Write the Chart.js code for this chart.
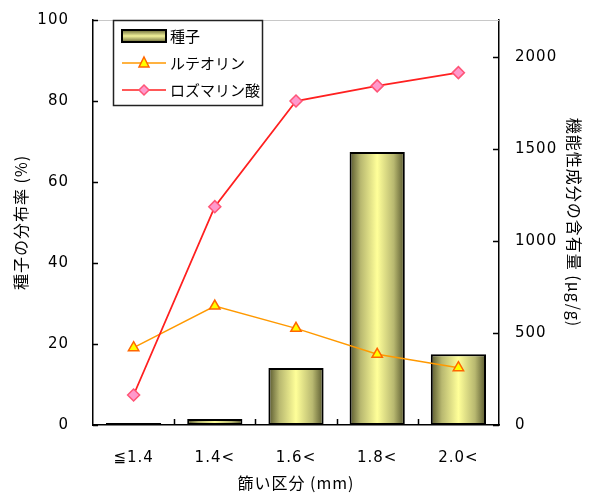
<!DOCTYPE html>
<html>
<head>
<meta charset="utf-8">
<script src="https://cdn.jsdelivr.net/npm/chart.js@4.4.0/dist/chart.umd.min.js"></script>
<style>
  html, body { margin: 0; padding: 0; background: #fff; }
  #wrap { width: 590px; height: 493px; }
</style>
</head>
<body>
<div id="wrap"><canvas id="seedChart" width="590" height="493"></canvas></div>
<script>
'use strict';

// chart data
var categories = ['≦1.4', '1.4<', '1.6<', '1.8<', '2.0<'];
var seedShare = [0.5, 1.5, 14.1, 67.4, 17.5];          // 種子の分布率 (%)
var luteolin = [420, 646, 525, 384, 311];              // μg/g
var rosmarinicAcid = [163, 1186, 1760, 1842, 1914];    // μg/g

var leftTicks = [0, 20, 40, 60, 80, 100];
var rightTicks = [0, 500, 1000, 1500, 2000];

var font = '"DejaVu Sans", "Noto Sans CJK JP", sans-serif';
var jpFont = '"Noto Sans CJK JP", "Noto Sans", sans-serif';

// cylinder-like gradient for each bar
function barFill(context) {
  var chart = context.chart;
  if (!chart.chartArea || !chart.scales.x) return '#dede88';
  var xs = chart.scales.x;
  var cx = xs.getPixelForValue(context.dataIndex);
  var w = xs.width / categories.length * 0.68;
  var g = chart.ctx.createLinearGradient(cx - w / 2, 0, cx + w / 2, 0);
  g.addColorStop(0, '#55552c');
  g.addColorStop(0.2, '#b8b870');
  g.addColorStop(0.5, '#ffff99');
  g.addColorStop(0.8, '#b8b870');
  g.addColorStop(1, '#55552c');
  return g;
}

// no label overflow padding on the value axes, layout handles the top gap
function noPad(s) {
  s.paddingTop = 0;
  s.paddingBottom = 0;
}

// the original uses a wide, loosely spaced font
var spacingPlugin = {
  id: 'spacing',
  beforeDraw: function (chart) { chart.ctx.letterSpacing = '1px'; }
};

// frame + inward tick marks
var framePlugin = {
  id: 'frame',
  beforeDatasetsDraw: function (chart) {
    var a = chart.chartArea, ctx = chart.ctx;
    ctx.save();
    ctx.strokeStyle = '#c8c8c8';
    ctx.lineWidth = 1;
    ctx.beginPath();
    ctx.moveTo(a.left, a.top + 0.5);
    ctx.lineTo(a.right, a.top + 0.5);
    ctx.stroke();
    ctx.restore();
  },
  afterDatasetsDraw: function (chart) {
    var a = chart.chartArea, ctx = chart.ctx;
    ctx.save();
    ctx.strokeStyle = '#000';
    ctx.lineWidth = 1.5;
    ctx.beginPath();
    leftTicks.forEach(function (v) {
      var y = Math.round(chart.scales.y.getPixelForValue(v)) + 0.5;
      ctx.moveTo(a.left, y); ctx.lineTo(a.left + 5, y);
    });
    rightTicks.forEach(function (v) {
      var y = Math.round(chart.scales.y2.getPixelForValue(v)) + 0.5;
      ctx.moveTo(a.right, y); ctx.lineTo(a.right - 6, y);
    });
    var step = chart.scales.x.width / categories.length;
    for (var i = 1; i < categories.length; i++) {
      var x = Math.round(a.left + step * i) + 0.5;
      ctx.moveTo(x, a.bottom); ctx.lineTo(x, a.bottom - 6);
    }
    ctx.stroke();
    ctx.restore();
  }
};

// legend box inside the plot, top-left
var legendPlugin = {
  id: 'boxLegend',
  afterDraw: function (chart) {
    var ctx = chart.ctx;
    var a = chart.chartArea;
    var x0 = a.left + 20, y0 = a.top, w = 149, h = 85;
    ctx.save();
    ctx.letterSpacing = '0px';
    ctx.fillStyle = '#fff';
    ctx.fillRect(x0, y0, w, h);
    ctx.strokeStyle = '#222';
    ctx.lineWidth = 1.5;
    ctx.strokeRect(x0 + 0.5, y0 + 0.5, w, h);

    ctx.font = '15px ' + jpFont;
    ctx.textBaseline = 'middle';
    ctx.fillStyle = '#000';

    var ds = chart.data.datasets;
    // bar swatch
    var sg = ctx.createLinearGradient(0, y0 + 10, 0, y0 + 22);
    sg.addColorStop(0, '#6a6a38');
    sg.addColorStop(0.5, '#f2f29a');
    sg.addColorStop(1, '#6a6a38');
    ctx.fillStyle = sg;
    ctx.fillRect(x0 + 9, y0 + 10, 44, 12);
    ctx.strokeStyle = '#000';
    ctx.lineWidth = 2;
    ctx.strokeRect(x0 + 9, y0 + 10, 44, 12);
    ctx.fillStyle = '#000';
    ctx.fillText(ds[0].label, x0 + 57, y0 + 16);

    var rows = [[ds[1], y0 + 43], [ds[2], y0 + 70]];
    rows.forEach(function (r) {
      var d = r[0], y = r[1];
      ctx.strokeStyle = d.borderColor;
      ctx.lineWidth = 1.5;
      ctx.beginPath();
      ctx.moveTo(x0 + 9, y); ctx.lineTo(x0 + 53, y);
      ctx.stroke();
      // marker
      ctx.fillStyle = d.pointBackgroundColor;
      ctx.strokeStyle = d.pointBorderColor;
      ctx.beginPath();
      var mx = x0 + 31, s = 5;
      if (d.pointStyle === 'triangle') {
        ctx.moveTo(mx, y - s - 1); ctx.lineTo(mx + s, y + s - 1); ctx.lineTo(mx - s, y + s - 1);
      } else {
        ctx.moveTo(mx, y - s); ctx.lineTo(mx + s, y); ctx.lineTo(mx, y + s); ctx.lineTo(mx - s, y);
      }
      ctx.closePath();
      ctx.fill(); ctx.stroke();
      ctx.fillStyle = '#000';
      ctx.fillText(d.label, x0 + 57, y);
    });
    ctx.restore();
  }
};

var ctx = document.getElementById('seedChart').getContext('2d');
var chart = new Chart(ctx, {
  data: {
    labels: categories,
    datasets: [{
      type: 'bar',
      label: '種子',
      data: seedShare,
      yAxisID: 'y',
      backgroundColor: barFill,
      borderColor: '#000',
      borderWidth: 2,
      borderSkipped: false,
      categoryPercentage: 1.0,
      barPercentage: 0.68,
      order: 3
    }, {
      type: 'line',
      label: 'ルテオリン',
      data: luteolin,
      yAxisID: 'y2',
      borderColor: '#ff9900',
      borderWidth: 1.5,
      pointStyle: 'triangle',
      pointRadius: 6,
      pointBackgroundColor: '#ffff00',
      pointBorderColor: '#ff6600',
      pointBorderWidth: 1.5,
      order: 2
    }, {
      type: 'line',
      label: 'ロズマリン酸',
      data: rosmarinicAcid,
      yAxisID: 'y2',
      borderColor: '#ff2020',
      borderWidth: 1.8,
      pointStyle: 'rectRot',
      pointRadius: 6,
      pointBackgroundColor: '#ff99cc',
      pointBorderColor: '#ff5577',
      pointBorderWidth: 1.5,
      order: 1
    }]
  },
  options: {
    responsive: false,
    animation: false,
    layout: { padding: { top: 20, left: 0, right: 0, bottom: 0 } },
    plugins: {
      legend: { display: false },
      tooltip: { enabled: false }
    },
    scales: {
      x: {
        offset: true,
        grid: { display: false, drawTicks: false },
        border: { color: '#000', width: 1.5 },
        ticks: { color: '#000', font: { family: font, size: 15 }, padding: 24, maxRotation: 0 },
        title: { display: true, text: '篩い区分 (mm)', color: '#000', font: { family: jpFont, size: 16 }, padding: { top: 2, bottom: 0 } },
        afterFit: function (s) { s.height = 68; }
      },
      y: {
        position: 'left',
        min: 0, max: 100,
        grid: { display: false, drawTicks: false },
        border: { color: '#000', width: 1.5 },
        ticks: { stepSize: 20, color: '#000', font: { family: font, size: 15 }, padding: 24 },
        title: { display: true, text: '種子の分布率 (%)', color: '#000', font: { family: jpFont, size: 16 }, padding: { top: 11, bottom: 0 } },
        afterFit: function (s) { s.width = 93; noPad(s); }
      },
      y2: {
        position: 'right',
        min: 0, max: 2200,
        grid: { display: false, drawTicks: false },
        border: { color: '#000', width: 1.5 },
        afterBuildTicks: function (s) { s.ticks = rightTicks.map(function (v) { return { value: v }; }); },
        ticks: {
          color: '#000', font: { family: font, size: 15 }, padding: 16,
          callback: function (v) { return String(v); }
        },
        title: { display: true, text: '機能性成分の含有量 (μg/g)', color: '#000', font: { family: jpFont, size: 16 }, padding: { top: 6, bottom: 0 } },
        afterFit: function (s) { s.width = 91; noPad(s); }
      }
    }
  },
  plugins: [spacingPlugin, framePlugin, legendPlugin]
});
</script>
</body>
</html>
